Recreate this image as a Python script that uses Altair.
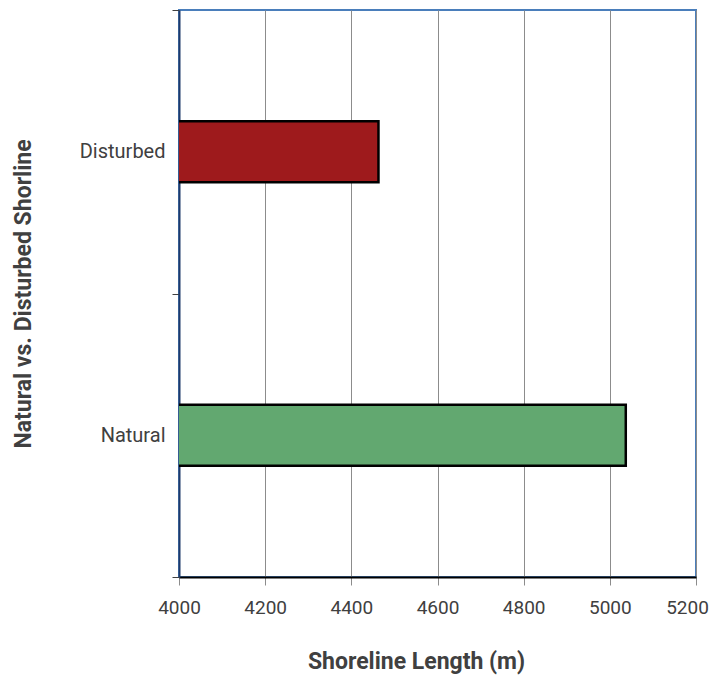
import altair as alt
import pandas as pd

categories = ["Disturbed", "Natural"]
lengths = [4463, 5037]
colors = ["#9e1a1c", "#62a870"]
x_ticks = [4000, 4200, 4400, 4600, 4800, 5000, 5200]

df = pd.DataFrame({"cat": categories, "len": lengths, "color": colors})

F = "Roboto"
TC = "#404040"

bars = alt.Chart(df).mark_bar(stroke="black", strokeWidth=2.5, size=61, clip=True).encode(
    x=alt.X("len:Q",
            scale=alt.Scale(domain=[4000, 5200], nice=False, zero=False),
            axis=alt.Axis(values=x_ticks, format="d",
                          title="Shoreline Length (m)", titleFont=F, titleFontSize=23,
                          titleFontWeight="bold", titleColor=TC, titlePadding=33,
                          titleX=237, titleAlign="center",
                          labelFont=F, labelFontSize=19, labelColor=TC, labelPadding=13,
                          labelOffset=alt.ExprRef("datum.value == 5200 ? -9 : 0"),
                          grid=True, gridColor="#8c8c8c", gridWidth=1,
                          domainColor="black", domainWidth=2, tickColor="#8c8c8c",
                          tickSize=8, labelFlush=False)),
    y=alt.Y("cat:N", sort=categories,
            scale=alt.Scale(paddingInner=0, paddingOuter=0),
            axis=alt.Axis(title="Natural vs. Disturbed Shorline", titleFont=F, titleFontSize=23,
                          titleFontWeight="bold", titleColor=TC, titlePadding=44,
                          labelFont=F, labelFontSize=20, labelColor=TC, labelPadding=7,
                          tickBand="extent", tickColor="#404040", tickSize=7,
                          domainColor="#1f3a6b", domainWidth=2, grid=False)),
    color=alt.Color("color:N", scale=None, legend=None),
)

chart = bars.properties(
    width=517, height=567,
    autosize=alt.AutoSizeParams(type="none"),
    padding={"left": 171, "top": 2, "right": 14, "bottom": 100},
).configure_view(stroke="#4a7ebb", strokeWidth=2)

chart.save("out.html", embed_options={"renderer": "svg", "actions": False})
